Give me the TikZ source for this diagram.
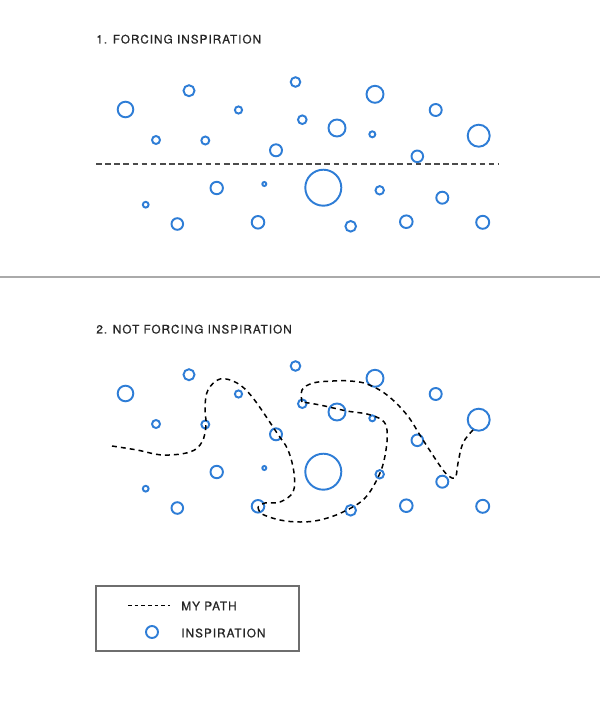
\documentclass[tikz,border=0pt]{standalone}
\usepackage{fontspec}
\newfontfamily\capfont[LetterSpace=8.5, FakeBold=0.7]{TeX Gyre Heros}
\definecolor{BubbleBlue}{RGB}{46,125,214}
\definecolor{InkGray}{RGB}{75,75,75}
\definecolor{RuleGray}{RGB}{170,170,170}
\definecolor{BoxGray}{RGB}{110,110,110}
\usetikzlibrary{positioning}

% x/y/radius of every bubble, in panel pixels
\newcommand{\bubblelist}{125.5/109.5/7.8, 189/90.7/5.5, 238.5/110/3.6, 295.5/82/4.8,
  375/94.3/8.5, 435.7/110/6, 156/140/4, 205.3/140.5/4, 302.3/119.7/4.3,
  337/128/8.5, 372.3/134.3/3, 478.7/135.7/11, 276/150.3/6, 417.3/156.3/5.8,
  216.7/188/6.2, 264.3/184/2, 323.3/187.7/18, 379.7/190.3/4.2, 442.3/197.7/6,
  145.7/204.7/2.9, 177.3/224/5.8, 258/222.3/6.3, 350.7/226.3/5.3,
  406.3/221.7/6.3, 482.7/222.3/6.5}

\begin{document}
\begin{tikzpicture}[x=0.02cm,y=-0.02cm,
    bubble/.style={draw=BubbleBlue, line width=1.1pt},
    caption/.style={font=\capfont\fontsize{6.7}{8}\selectfont, text=black!85, anchor=west, inner sep=0pt},
    mypath/.style={dash pattern=on 2.8pt off 2.3pt, line width=0.85pt}]
  \useasboundingbox (0,0) rectangle (600,703);

  % panel 1
  \begin{scope}
    \node[caption] (title1) at (96,39.2) {1. FORCING INSPIRATION};
    \foreach \x/\y/\r in \bubblelist
      \draw[bubble] (\x,\y) circle (\r);
    \draw[InkGray, line width=0.9pt, dash pattern=on 3.2pt off 2pt] (96,164) -- (499,164);
  \end{scope}

  \draw[RuleGray, line width=1.1pt] (0,277) -- (600,277);

  % panel 2
  \begin{scope}[shift={(0,284)}]
    \node[caption] (title2) at (96,45.2) {2. NOT FORCING INSPIRATION};
    \foreach \x/\y/\r in \bubblelist
      \draw[bubble] (\x,\y) circle (\r);
    \draw[mypath] plot[smooth, tension=0.6] coordinates {(112,162) (137,166) (163,171)
      (190,168) (202,158) (206,141) (205,123) (208,106) (220,95) (237,99) (253,114)
      (277,149) (288,166) (294,189) (293,208) (280,218) (265,219) (258,223)};
    \draw[mypath] plot[smooth, tension=0.6] coordinates {(258,223) (262,230) (280,236)
      (300,238) (320,236) (343,228) (365,214) (380,189) (386,166) (387,146) (382,136)
      (367,130) (347,127) (320,121) (302,118)};
    \draw[mypath] plot[smooth, tension=0.6] coordinates {(302,118) (302,106) (313,99)
      (333,97) (350,97) (367,100) (387,111) (407,131) (423,156) (443,186) (452,194)
      (456,192) (458,179) (463,159) (473,146)};
  \end{scope}

  % legend
  \draw[BoxGray, line width=0.6pt] (96,586) rectangle (299,651);
  \draw[line width=0.5pt, dash pattern=on 2pt off 1.8pt] (128,605) -- (170,605);
  \node[caption] (pathlbl) at (181,606) {MY PATH};
  \draw[bubble] (152,632) circle (6);
  \node[caption] (insplbl) at (181,633) {INSPIRATION};
\end{tikzpicture}
\end{document}
